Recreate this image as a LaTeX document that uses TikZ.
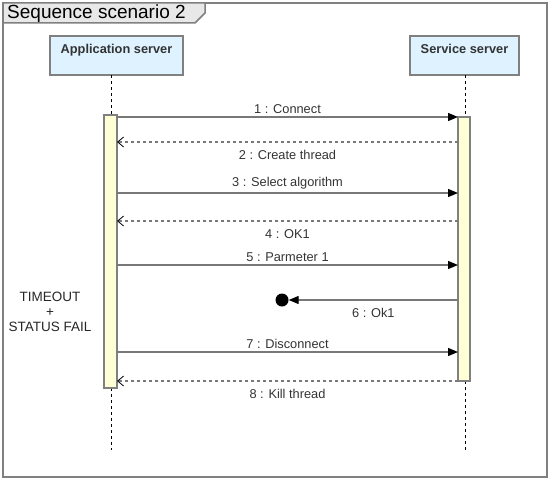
\documentclass[tikz,border=0pt]{standalone}
\usepackage{fontspec}
\setmainfont{Liberation Sans}
\usetikzlibrary{arrows.meta}
\definecolor{framegray}{RGB}{128,128,128}
\definecolor{tabgray}{RGB}{232,232,232}
\definecolor{boxblue}{RGB}{222,243,255}
\definecolor{baryellow}{RGB}{255,255,214}
\definecolor{msggray}{RGB}{120,120,120}
\definecolor{labelgray}{RGB}{51,51,51}
\tikzset{
  frame/.style={draw=framegray, line width=1.5pt},
  lifebox/.style={draw=framegray, line width=1.5pt, fill=boxblue, inner sep=0pt, minimum height=39pt, text depth=13pt, font=\fontsize{12.8}{14}\selectfont\bfseries, text=labelgray, anchor=center},
  actbar/.style={draw=framegray, line width=1.5pt, fill=baryellow, inner sep=0pt, minimum width=12pt},
  lifeline/.style={draw=black, line width=0.8pt, dash pattern=on 3pt off 3pt},
  callmsg/.style={draw=msggray, line width=1.3pt, -{Triangle[length=10pt,width=8pt,color=black]}},
  retmsg/.style={draw=msggray, line width=1.3pt, dash pattern=on 3pt off 3pt, -{Straight Barb[length=6pt,width=10pt,color=black,line width=0.8pt]}},
  msglabel/.style={text=labelgray, font=\fontsize{12.8}{14}\selectfont, inner sep=1pt},
}
\begin{document}
\begin{tikzpicture}[x=1pt,y=-1pt]
\useasboundingbox (0,0) rectangle (553,484);
% frame
\draw[frame] (3,3) rectangle (547,477);
\draw[frame, fill=tabgray] (3,3) -- (205,3) -- (205,13) -- (195,23) -- (3,23) -- cycle;
\node[anchor=west, inner sep=0pt, font=\fontsize{19}{21}\selectfont] (title) at (7,13.5) {Sequence scenario 2};
% lifeline heads
\node[lifebox, minimum width=133pt] (app) at (116.5,55.5) {Application server};
\node[lifebox, minimum width=109pt] (srv) at (464.5,55.5) {Service server};
% lifelines
\coordinate (appl0) at (111,75);
\coordinate (appl1) at (111,115);
\coordinate (appl2) at (111,388);
\coordinate (appl3) at (111,450);
\coordinate (srvl0) at (465,75);
\coordinate (srvl1) at (465,117);
\coordinate (srvl2) at (465,381);
\coordinate (srvl3) at (465,450);
\draw[lifeline] (appl0) -- (appl1);
\draw[lifeline] (appl2) -- (appl3);
\draw[lifeline] (srvl0) -- (srvl1);
\draw[lifeline] (srvl2) -- (srvl3);
% activation bars
\node[actbar, minimum width=13pt, minimum height=273pt] (appbar) at (110.5,251.5) {};
\node[actbar, minimum width=12pt, minimum height=264pt] (srvbar) at (464,249) {};
% message anchors
\foreach \n/\y in {1/117,2/142,3/193,4/221,5/265,6/300,7/352,8/381}{
  \coordinate (a\n) at (117,\y);
  \coordinate (s\n) at (458,\y);
}
\node[circle, fill=black, inner sep=0pt, minimum size=13pt] (lost) at (282,300) {};
% messages
\draw[callmsg] (a1) -- (s1) node[msglabel, midway, above=2pt] (l1) {1 : Connect};
\draw[retmsg] (s2) -- (a2) node[msglabel, midway, below=6.5pt] (l2) {2 : Create thread};
\draw[callmsg] (a3) -- (s3) node[msglabel, midway, above=2pt] (l3) {3 : Select algorithm};
\draw[retmsg] (s4) -- (a4) node[msglabel, midway, below=6.5pt] (l4) {4 : OK1};
\draw[callmsg] (a5) -- (s5) node[msglabel, midway, above=2pt] (l5) {5 : Parmeter 1};
\draw[callmsg] (s6) -- (lost.east) node[msglabel, midway, below=6.5pt] (l6) {6 : Ok1};
\draw[callmsg] (a7) -- (s7) node[msglabel, midway, above=2pt] (l7) {7 : Disconnect};
\draw[retmsg] (s8) -- (a8) node[msglabel, midway, below=6.5pt] (l8) {8 : Kill thread};
% note
\node[msglabel, align=center, font=\fontsize{13.5}{15}\selectfont, text=black!85] (note) at (50,312) {TIMEOUT\\+\\STATUS FAIL};
\end{tikzpicture}
\end{document}
